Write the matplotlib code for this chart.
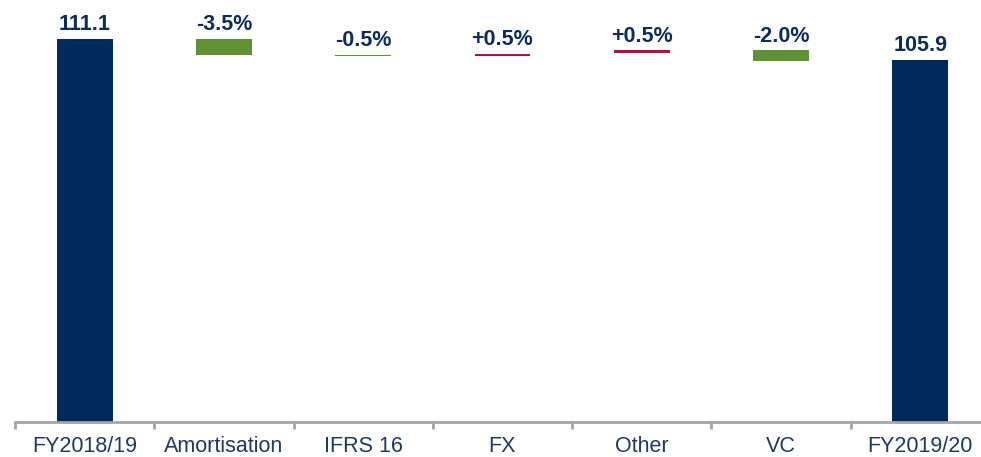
import matplotlib.pyplot as plt

plt.rcParams['font.family'] = ['Liberation Sans', 'DejaVu Sans']

categories = ['FY2018/19', 'Amortisation', 'IFRS 16', 'FX', 'Other', 'VC', 'FY2019/20']
labels = ['111.1', '-3.5%', '-0.5%', '+0.5%', '+0.5%', '-2.0%', '105.9']
barLow = [0, 107.1, 106.8, 106.8, 107.5, 105.6, 0]
barHigh = [111.1, 111.1, 107.2, 107.4, 108.3, 108.3, 105.9]
kinds = ['total', 'down', 'down', 'up', 'up', 'down', 'total']

navy = '#012A5A'
colours = {'total': navy, 'down': '#5E9234', 'up': '#B0123C'}

fig = plt.figure(figsize=(9.81, 4.57), dpi=100)
ax = fig.add_axes([15 / 981, 35.3 / 457, 975 / 981, 421.7 / 457])

xs = range(len(categories))
heights = [h - l for l, h in zip(barLow, barHigh)]
ax.bar(xs, heights, bottom=barLow, width=0.4,
       color=[colours[k] for k in kinds], zorder=2)

# value labels above each bar
for x, top, text in zip(xs, barHigh, labels):
    ax.annotate(text, (x, top), xytext=(0, 6), textcoords='offset points',
                ha='center', va='baseline', fontsize=15.5, fontweight='bold',
                color='#0D2B5B')

ax.set_xlim(-0.5, len(categories) - 0.5)
ax.set_ylim(16.3, 120.7)

for side in ['top', 'right', 'left']:
    ax.spines[side].set_visible(False)
ax.spines['bottom'].set_color('#A3A5AD')
ax.spines['bottom'].set_linewidth(2)
ax.set_yticks([])

ax.set_xticks(list(xs))
ax.set_xticklabels(categories, fontsize=15.5, color='#1F3864')
ax.tick_params(axis='x', which='major', length=0, pad=10.5)
ax.set_xticks([x - 0.5 for x in xs], minor=True)
ax.tick_params(axis='x', which='minor', length=5, width=2, color='#A3A5AD')

fig.savefig('out.png', dpi=100)
